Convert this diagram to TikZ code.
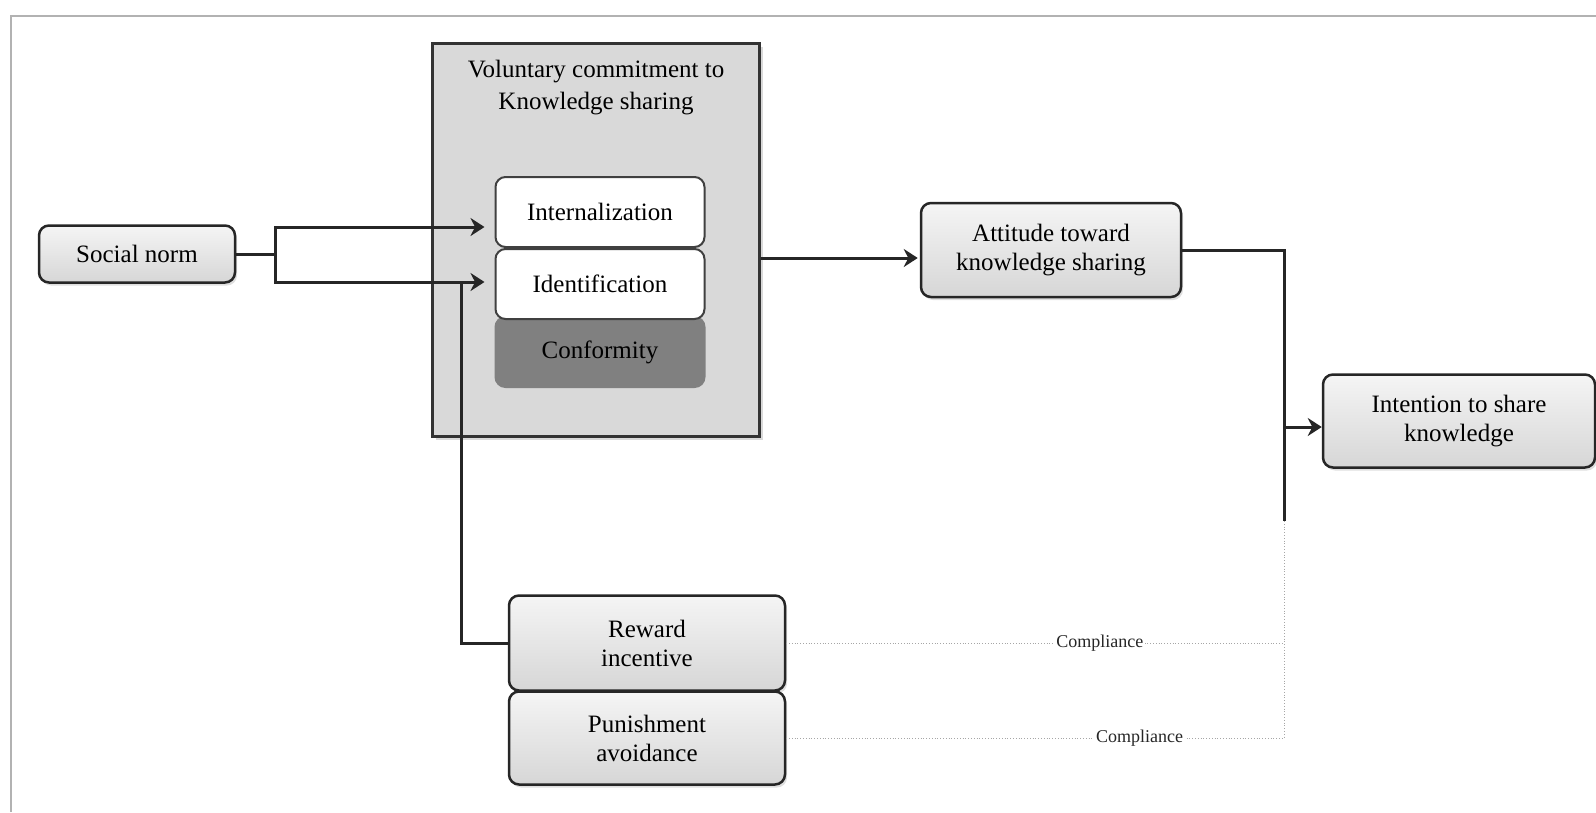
\documentclass[tikz,border=0pt]{standalone}
\usepackage{fontspec}
\setmainfont{Liberation Serif}
\usetikzlibrary{arrows.meta,shadows}
\tikzset{
  box/.style={draw=black!85, line width=2.5pt, rounded corners=10pt, align=center,
    top color=gray!8, bottom color=gray!32, font=\fontsize{25}{29}\selectfont,
    drop shadow={shadow xshift=2pt, shadow yshift=-3pt, opacity=0.25}},
  inner/.style={draw=black!75, line width=2pt, rounded corners=10pt, fill=white,
    minimum width=209pt, minimum height=70pt, font=\fontsize{25}{29}\selectfont},
  link/.style={line width=3pt, black!85},
  arrowline/.style={link, -{Stealth[length=14pt,width=18pt]}},
  comply/.style={gray!70, line width=0.8pt, dotted},
  tag/.style={fill=white, text=black!85, inner sep=2pt, font=\fontsize{18}{22}\selectfont}
}
\begin{document}
\begin{tikzpicture}[x=1pt,y=-1pt]
\useasboundingbox (0,0) rectangle (1596,812);
\draw[gray!60, line width=2.5pt] (11,812) -- (11,16) -- (1596,16);

\node[draw=black!80, line width=2.5pt, fill=gray!30, minimum width=327pt, minimum height=393pt,
  drop shadow={shadow xshift=3pt, shadow yshift=-3pt, opacity=0.3}] (commit) at (596,240) {};
\node[align=center, font=\fontsize{25}{32}\selectfont] (title) at (596,88) {Voluntary commitment to\\Knowledge sharing};
\node[inner, fill=black!50, draw=black!50] (conform) at (600,352) {Conformity};
\node[inner] (ident) at (600,284) {Identification};
\node[inner] (intern) at (600,212) {Internalization};

\node[box, minimum width=196pt, minimum height=57pt] (social) at (137,254) {Social norm};
\node[box, minimum width=260pt, minimum height=94pt] (attitude) at (1051,250) {Attitude toward\\knowledge sharing};
\node[box, minimum width=272pt, minimum height=93pt] (intention) at (1459,421) {Intention to share\\knowledge};
\node[box, minimum width=276pt, minimum height=95pt] (reward) at (647,643) {Reward\\incentive};
\node[box, minimum width=276pt, minimum height=93pt] (punish) at (647,738) {Punishment\\avoidance};

\coordinate (fork) at (275,254);
\coordinate (join) at (461,282);
\coordinate (bartop) at (1284,250);
\coordinate (barbot) at (1284,521);

\draw[link] (social.east) -- (fork);
\draw[arrowline, shorten >=10pt] (fork) |- ([yshift=-15pt]intern.west);
\draw[arrowline, shorten >=10pt] (fork) |- ([yshift=2pt]ident.west);
\draw[link] (reward.west) -| (join);
\draw[arrowline, shorten >=2pt] (commit.east |- 0,258) -- (attitude.west |- 0,258);
\draw[link] (attitude.east) -- (bartop) -- (barbot);
\draw[arrowline] (bartop |- 0,427) -- (intention.west |- 0,427);

\draw[comply] (reward.east) -- node[tag, pos=0.63] {Compliance} (reward.east -| barbot);
\draw[comply] (punish.east) -- node[tag, pos=0.71] {Compliance} (punish.east -| barbot);
\draw[comply] (barbot) -- (punish.east -| barbot);
\end{tikzpicture}
\end{document}
